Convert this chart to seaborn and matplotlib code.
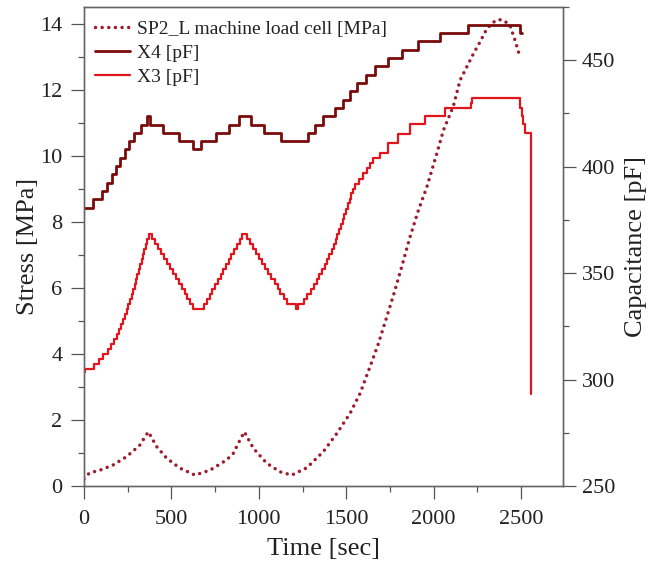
import numpy as np
import pandas as pd
import matplotlib
matplotlib.use("Agg")
import matplotlib.pyplot as plt
from matplotlib.ticker import MultipleLocator
import seaborn as sns


# Values.
time_stress = [0, 11, 34, 92, 168, 244, 320, 349, 368, 416, 473, 549, 635, 721, 816, 854, 892, 917,
               969, 1045, 1121, 1188, 1274, 1369, 1446, 1522, 1579, 1636, 1684, 1732, 1779, 1817,
               1865, 1913, 1961, 2018, 2056, 2113, 2151, 2227, 2265, 2304, 2342, 2370, 2400, 2437,
               2466, 2494]
stress_mpa = [0.22, 0.30, 0.40, 0.48, 0.64, 0.89, 1.24, 1.49, 1.64, 1.19, 0.84, 0.54, 0.33, 0.48, 0.79,
              0.99, 1.39, 1.64, 1.14, 0.69, 0.43, 0.33, 0.55, 1.04, 1.59, 2.2, 2.8, 3.61, 4.31, 5.12,
              5.93, 6.63, 7.54, 8.35, 9.05, 10.06, 10.77, 11.5, 12.28, 13.08, 13.44, 13.84, 14.04,
              14.12, 14.1, 13.94, 13.49, 12.98]

time_x4 = [0, 53, 101, 130, 160, 183, 206, 234, 259, 288, 326, 360, 379, 450, 545, 621, 669, 755,
           831, 888, 955, 1031, 1126, 1280, 1321, 1369, 1436, 1483, 1522, 1560, 1612, 1665, 1741,
           1817, 1913, 2037, 2199, 2494, 2504]
cap_x4 = [380.8, 384.7, 388.6, 392.5, 396.4, 400.3, 404.2, 408.1, 412.0, 415.9, 419.8, 423.7,
          419.8, 415.9, 412.0, 408.1, 412.0, 415.9, 419.8, 423.7, 419.8, 415.9, 412.0, 415.9,
          419.8, 423.7, 427.6, 431.5, 435.4, 439.3, 443.2, 447.1, 451.0, 454.9, 458.8, 462.7,
          466.6, 462.7, 462.7]

time_x3 = [0, 8, 55, 85, 110, 135, 155, 172, 186, 199, 212, 224, 234, 244, 254, 263, 272, 280,
           289, 297, 305, 314, 322, 330, 338, 346, 354, 362, 370,
           390, 407, 424, 440, 457, 474, 491, 508, 525, 541, 558, 575, 592, 608, 625,
           687, 703, 718, 734, 750, 765, 781, 796, 812, 828, 843, 859, 874, 890, 906,
           934, 951, 969, 986, 1003, 1021, 1038, 1055, 1072, 1090, 1107, 1124, 1142, 1159, 1212, 1222,
           1258, 1278, 1298, 1315, 1332, 1347, 1362, 1376, 1390, 1403, 1416, 1428, 1439, 1450, 1460,
           1470, 1480, 1490, 1500, 1510, 1520, 1530, 1541,
           1552, 1575, 1598, 1617, 1636, 1655, 1693, 1741, 1798, 1865, 1951, 2065, 2212, 2222,
           2494, 2503, 2510, 2523, 2557]
cap_x3 = [303.5, 305.1, 307.5, 309.8, 312.2, 314.5, 316.9, 319.2, 321.6, 323.9, 326.3, 328.6,
          331.0, 333.3, 335.7, 338.0, 340.4, 342.7, 345.1, 347.4, 349.8, 352.1, 354.5, 356.8,
          359.2, 361.5, 363.9, 366.2, 368.6,
          366.2, 363.9, 361.5, 359.2, 356.8, 354.5, 352.1, 349.8, 347.4, 345.1, 342.7, 340.4,
          338.0, 335.7, 333.3,
          335.7, 338.0, 340.4, 342.7, 345.1, 347.4, 349.8, 352.1, 354.5, 356.8, 359.2, 361.5,
          363.9, 366.2, 368.6,
          366.2, 363.9, 361.5, 359.2, 356.8, 354.5, 352.1, 349.8, 347.4, 345.1, 342.7, 340.4,
          338.0, 335.7, 333.3, 335.7,
          338.0, 340.4, 342.7, 345.1, 347.4, 349.8, 352.1, 354.5, 356.8, 359.2, 361.5, 363.9,
          366.2, 368.6, 370.9, 373.3, 375.6, 378.0, 380.3, 382.7, 385.0, 387.4, 389.7,
          392.0, 394.4, 396.8, 399.6, 401.9, 404.0, 406.6, 411.3, 415.2, 419.9, 423.8, 427.7,
          430.0, 432.1, 427.7, 423.8, 419.9, 416.0, 293.4]

df_stress = pd.DataFrame({"Time": time_stress, "Stress": stress_mpa})
df_x4 = pd.DataFrame({"Time": time_x4, "Cap": cap_x4})
df_x3 = pd.DataFrame({"Time": time_x3, "Cap": cap_x3})


# Style.
sns.set_style("ticks")
plt.rcParams["font.family"] = ["Liberation Serif", "DejaVu Serif"]
plt.rcParams["text.color"] = "#222222"
plt.rcParams["axes.labelcolor"] = "#222222"
plt.rcParams["xtick.color"] = "#555555"
plt.rcParams["ytick.color"] = "#555555"
plt.rcParams["xtick.labelcolor"] = "#222222"
plt.rcParams["ytick.labelcolor"] = "#222222"

fig = plt.figure(figsize=(6.59, 5.63), dpi=100)
ax = fig.add_axes([84 / 659, 1 - 486 / 563, 479 / 659, 479 / 563])
ax2 = ax.twinx()

# Stress (left axis), dotted.
sns.lineplot(data=df_stress, x="Time", y="Stress", ax=ax, color="#9e1b2b", linewidth=2.5,
             linestyle=(0, (0.01, 1.9)), dash_capstyle="round", estimator=None, sort=False,
             legend=False, label="SP2_L machine load cell [MPa]")

# Capacitance (right axis), step lines.
sns.lineplot(data=df_x4, x="Time", y="Cap", ax=ax2, color="#7a0b0b", linewidth=2.0,
             drawstyle="steps-post", estimator=None, sort=False, legend=False, label="X4 [pF]")
sns.lineplot(data=df_x3, x="Time", y="Cap", ax=ax2, color="#e2141c", linewidth=1.6,
             drawstyle="steps-post", estimator=None, sort=False, legend=False, label="X3 [pF]")

ax.set_xlim(0, 2740)
ax.set_ylim(0, 14.5)
ax2.set_ylim(250, 475)

ax.xaxis.set_major_locator(MultipleLocator(500))
ax.xaxis.set_minor_locator(MultipleLocator(250))
ax.yaxis.set_major_locator(MultipleLocator(2))
ax.yaxis.set_minor_locator(MultipleLocator(1))
ax2.yaxis.set_major_locator(MultipleLocator(50))
ax2.yaxis.set_minor_locator(MultipleLocator(25))

for a in (ax, ax2):
    a.tick_params(which="major", direction="out", length=9.5, width=0.9, labelsize=16)
    a.tick_params(which="minor", direction="out", length=4.5, width=0.9)
    for s in a.spines.values():
        s.set_color("#666666")
        s.set_linewidth(1.0)
ax.tick_params(axis="y", which="major", pad=6)
ax.tick_params(axis="x", which="major", pad=8)
ax2.tick_params(axis="y", which="major", pad=4)

ax.set_xlabel("Time [sec]", fontsize=19)
ax.set_ylabel("Stress [MPa]", fontsize=19)
ax2.set_ylabel("Capacitance [pF]", fontsize=19)
ax.xaxis.set_label_coords(0.5, -0.108)
ax.yaxis.set_label_coords(-0.094, 0.5)
ax2.yaxis.set_label_coords(1.13, 0.5)

# Combined legend.
h1, l1 = ax.get_legend_handles_labels()
h2, l2 = ax2.get_legend_handles_labels()
ax2.legend(h1 + h2, l1 + l2, loc="upper left", bbox_to_anchor=(0.022, 0.972), frameon=False,
           fontsize=14, borderpad=0, borderaxespad=0, handlelength=1.8, handletextpad=0.4,
           labelspacing=0.33)

plt.savefig("out.png", dpi=100)
